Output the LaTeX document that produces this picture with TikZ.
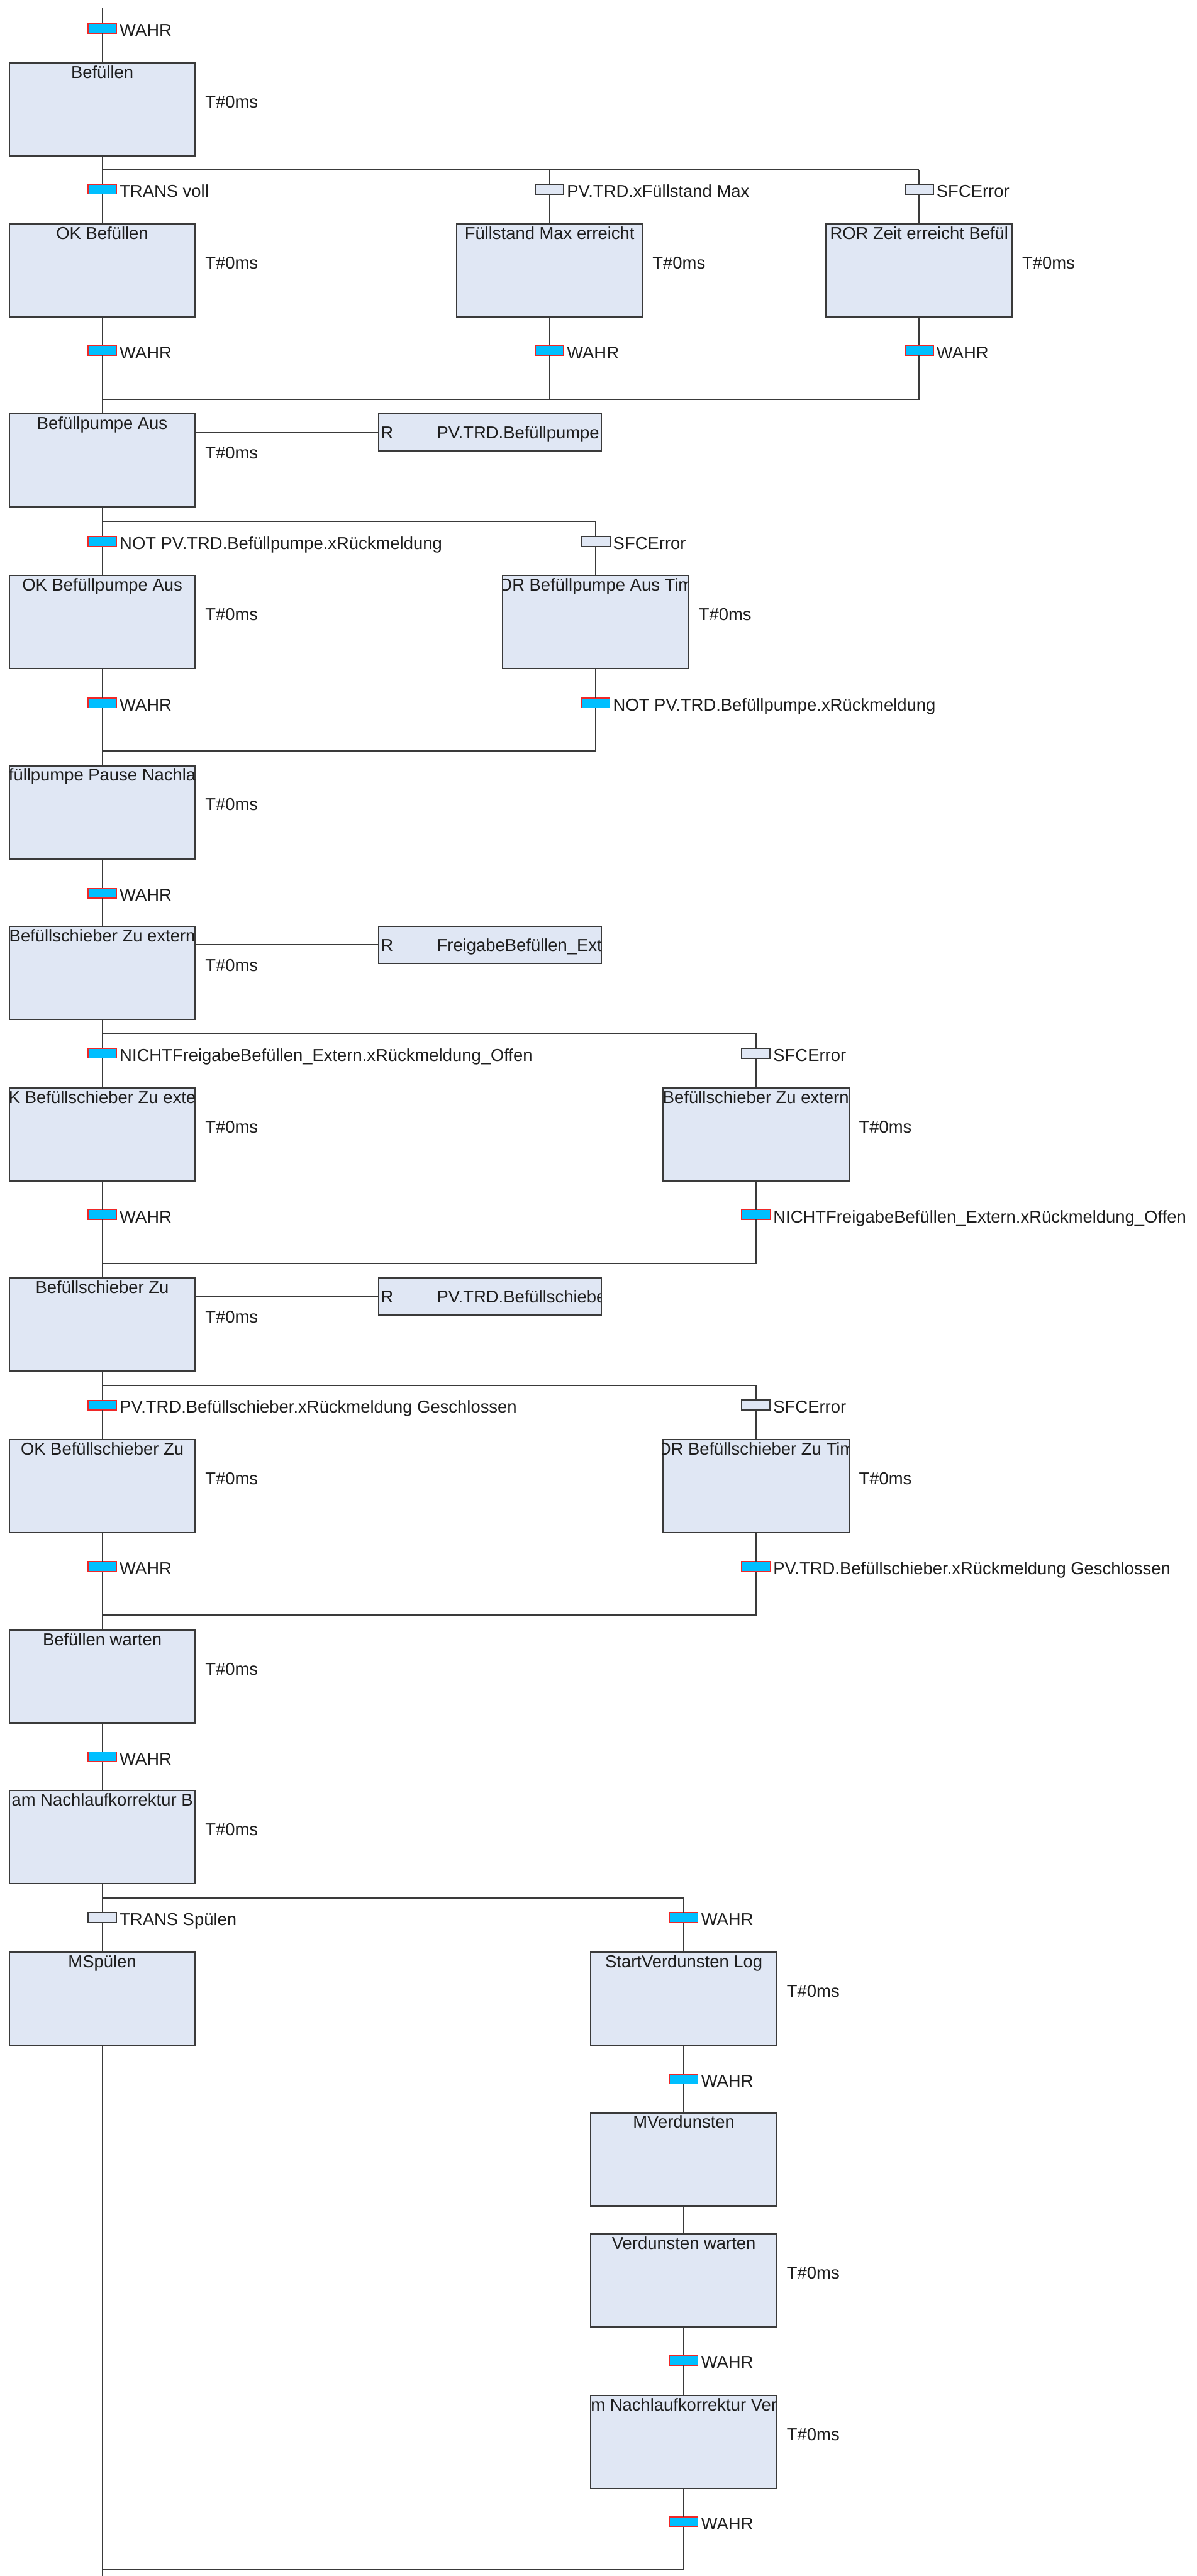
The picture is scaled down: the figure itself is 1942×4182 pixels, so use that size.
\documentclass[tikz,border=0pt]{standalone}
\usepackage{fontspec}
\setmainfont{Liberation Sans}
\usetikzlibrary{calc}

\definecolor{stepfill}{HTML}{E0E7F4}
\definecolor{lineC}{HTML}{3A3A3A}
\definecolor{actC}{HTML}{00BFFF}
\definecolor{actB}{HTML}{F02828}
\definecolor{txtC}{HTML}{1E1E1E}

\tikzset{
  every node/.style={font=\fontsize{28}{34}\selectfont, text=txtC},
  wire/.style={draw=lineC, line width=2pt},
  stepbox/.style={draw=lineC, line width=2.4pt, fill=stepfill, minimum width=302pt,
    minimum height=151pt, inner sep=0pt, outer sep=0pt, anchor=north},
  steptitle/.style={anchor=base, inner sep=0pt},
  timer/.style={anchor=base west, inner sep=0pt},
  tact/.style={draw=actB, line width=1.6pt, fill=actC, minimum width=46pt,
    minimum height=16pt, inner sep=0pt, outer sep=0pt},
  tina/.style={draw=lineC, line width=2pt, fill=stepfill, minimum width=46pt,
    minimum height=16pt, inner sep=0pt, outer sep=0pt},
  tlabel/.style={anchor=base west, inner sep=0pt},
  qbox/.style={draw=lineC, line width=2pt, fill=stepfill, minimum width=91pt,
    minimum height=60pt, inner sep=0pt, outer sep=0pt, anchor=north west},
  vbox/.style={draw=lineC, line width=2pt, fill=stepfill, minimum width=270pt,
    minimum height=60pt, inner sep=0pt, outer sep=0pt, anchor=north west},
  atext/.style={anchor=base west, inner sep=0pt},
}

% step: name, x, top, title (title clipped to the box)
\newcommand\sfcstep[4]{%
  \node[stepbox] (#1) at (#2,#3) {};
  \begin{scope}
    \clip (#1.north west) rectangle (#1.south east);
    \node[steptitle] (#1-title) at ($(#1.north)+(0,25)$) {#4};
  \end{scope}}
% step timer text
\newcommand\sfctimer[1]{%
  \node[timer] (#1-time) at ($(#1.north east)+(16,73)$) {T\#0ms};}
% transition: name, style, x, y, condition
\newcommand\sfctrans[5]{%
  \node[#2] (#1) at (#3,#4) {};
  \node[tlabel] (#1-label) at ($(#1.center)+(28,13)$) {#5};}
% action block: step, qualifier, variable
\newcommand\sfcaction[3]{%
  \node[qbox] (#1-q) at ($(#1.north west)+(600,0)$) {};
  \node[vbox] (#1-v) at (#1-q.north east) {};
  \node[atext] (#1-qt) at ($(#1-q.west)+(3,10)$) {#2};
  \begin{scope}
    \clip (#1-v.north west) rectangle (#1-v.south east);
    \node[atext] (#1-vt) at ($(#1-v.west)+(3,10)$) {#3};
  \end{scope}
  \draw[wire] (#1.east |- #1-q.west) -- (#1-q.west);}

\begin{document}
\begin{tikzpicture}[x=1pt,y=-1pt]
\fill[white] (0,0) rectangle (1942,4182);
\useasboundingbox (0,0) rectangle (1942,4182);

% ---------- Befüllen and first divergence ----------
\coordinate (start) at (166,13);
\sfctrans{t0}{tact}{166}{46}{WAHR}
\sfcstep{s1}{166}{102}{Befüllen}\sfctimer{s1}
\draw[wire] (start) -- (t0);
\draw[wire] (t0) -- (s1);

\coordinate (d1a) at (166,276);
\coordinate (d1b) at (892,276);
\coordinate (d1c) at (1492,276);
\sfctrans{t1a}{tact}{166}{307}{TRANS voll}
\sfctrans{t1b}{tina}{892}{307}{PV.TRD.xFüllstand Max}
\sfctrans{t1c}{tina}{1492}{307}{SFCError}
\draw[wire] (s1) -- (t1a);
\draw[wire] (d1a) -- (d1c);
\draw[wire] (d1b) -- (t1b);
\draw[wire] (d1c) -- (t1c);

\sfcstep{s2a}{166}{363}{OK Befüllen}\sfctimer{s2a}
\sfcstep{s2b}{892}{363}{Füllstand Max erreicht}\sfctimer{s2b}
\sfcstep{s2c}{1492}{363}{ROR Zeit erreicht Befül}\sfctimer{s2c}
\draw[wire] (t1a) -- (s2a);
\draw[wire] (t1b) -- (s2b);
\draw[wire] (t1c) -- (s2c);

\sfctrans{t2a}{tact}{166}{569}{WAHR}
\sfctrans{t2b}{tact}{892}{569}{WAHR}
\sfctrans{t2c}{tact}{1492}{569}{WAHR}
\draw[wire] (s2a) -- (t2a);
\draw[wire] (s2b) -- (t2b);
\draw[wire] (s2c) -- (t2c);

\coordinate (m1a) at (166,648);
\coordinate (m1b) at (892,648);
\coordinate (m1c) at (1492,648);
\draw[wire] (t2b) -- (m1b);
\draw[wire] (t2c) -- (m1c) -- (m1a);

% ---------- Befüllpumpe Aus ----------
\sfcstep{s3}{166}{672}{Befüllpumpe Aus}\sfctimer{s3}
\sfcaction{s3}{R}{PV.TRD.Befüllpumpe}
\draw[wire] (t2a) -- (s3);

\coordinate (d2a) at (166,846);
\coordinate (d2b) at (967,846);
\sfctrans{t3a}{tact}{166}{879}{NOT PV.TRD.Befüllpumpe.xRückmeldung}
\sfctrans{t3b}{tina}{967}{879}{SFCError}
\draw[wire] (s3) -- (t3a);
\draw[wire] (d2a) -- (d2b) -- (t3b);

\sfcstep{s4a}{166}{934}{OK Befüllpumpe Aus}\sfctimer{s4a}
\sfcstep{s4b}{967}{934}{OR Befüllpumpe Aus Tim}\sfctimer{s4b}
\draw[wire] (t3a) -- (s4a);
\draw[wire] (t3b) -- (s4b);

\sfctrans{t4a}{tact}{166}{1141}{WAHR}
\sfctrans{t4b}{tact}{967}{1141}{NOT PV.TRD.Befüllpumpe.xRückmeldung}
\draw[wire] (s4a) -- (t4a);
\draw[wire] (s4b) -- (t4b);

\coordinate (m2a) at (166,1219);
\coordinate (m2b) at (967,1219);
\draw[wire] (t4b) -- (m2b) -- (m2a);

% ---------- Pause and Befüllschieber Zu extern ----------
\sfcstep{s5}{166}{1243}{füllpumpe Pause Nachla}\sfctimer{s5}
\draw[wire] (t4a) -- (s5);
\sfctrans{t5}{tact}{166}{1450}{WAHR}
\draw[wire] (s5) -- (t5);

\sfcstep{s6}{166}{1504}{Befüllschieber Zu extern}\sfctimer{s6}
\sfcaction{s6}{R}{FreigabeBefüllen\_Ext}
\draw[wire] (t5) -- (s6);

\coordinate (d3a) at (166,1678);
\coordinate (d3b) at (1227,1678);
\sfctrans{t6a}{tact}{166}{1710}{NICHTFreigabeBefüllen\_Extern.xRückmeldung\_Offen}
\sfctrans{t6b}{tina}{1227}{1710}{SFCError}
\draw[wire] (s6) -- (t6a);
\draw[wire] (d3a) -- (d3b) -- (t6b);

\sfcstep{s7a}{166}{1766}{K Befüllschieber Zu exte}\sfctimer{s7a}
\sfcstep{s7b}{1227}{1766}{Befüllschieber Zu extern}\sfctimer{s7b}
\draw[wire] (t6a) -- (s7a);
\draw[wire] (t6b) -- (s7b);

\sfctrans{t7a}{tact}{166}{1972}{WAHR}
\sfctrans{t7b}{tact}{1227}{1972}{NICHTFreigabeBefüllen\_Extern.xRückmeldung\_Offen}
\draw[wire] (s7a) -- (t7a);
\draw[wire] (s7b) -- (t7b);

\coordinate (m3a) at (166,2051);
\coordinate (m3b) at (1227,2051);
\draw[wire] (t7b) -- (m3b) -- (m3a);

% ---------- Befüllschieber Zu ----------
\sfcstep{s8}{166}{2075}{Befüllschieber Zu}\sfctimer{s8}
\sfcaction{s8}{R}{PV.TRD.Befüllschieber}
\draw[wire] (t7a) -- (s8);

\coordinate (d4a) at (166,2249);
\coordinate (d4b) at (1227,2249);
\sfctrans{t8a}{tact}{166}{2281}{PV.TRD.Befüllschieber.xRückmeldung Geschlossen}
\sfctrans{t8b}{tina}{1227}{2281}{SFCError}
\draw[wire] (s8) -- (t8a);
\draw[wire] (d4a) -- (d4b) -- (t8b);

\sfcstep{s9a}{166}{2337}{OK Befüllschieber Zu}\sfctimer{s9a}
\sfcstep{s9b}{1227}{2337}{OR Befüllschieber Zu Tim}\sfctimer{s9b}
\draw[wire] (t8a) -- (s9a);
\draw[wire] (t8b) -- (s9b);

\sfctrans{t9a}{tact}{166}{2543}{WAHR}
\sfctrans{t9b}{tact}{1227}{2543}{PV.TRD.Befüllschieber.xRückmeldung Geschlossen}
\draw[wire] (s9a) -- (t9a);
\draw[wire] (s9b) -- (t9b);

\coordinate (m4a) at (166,2622);
\coordinate (m4b) at (1227,2622);
\draw[wire] (t9b) -- (m4b) -- (m4a);

% ---------- Befüllen warten, Nachlaufkorrektur ----------
\sfcstep{s10}{166}{2646}{Befüllen warten}\sfctimer{s10}
\draw[wire] (t9a) -- (s10);
\sfctrans{t10}{tact}{166}{2852}{WAHR}
\draw[wire] (s10) -- (t10);

\sfcstep{s11}{166}{2907}{am Nachlaufkorrektur B}\sfctimer{s11}
\draw[wire] (t10) -- (s11);

\coordinate (d5a) at (166,3081);
\coordinate (d5b) at (1110,3081);
\sfctrans{t11a}{tina}{166}{3113}{TRANS Spülen}
\sfctrans{t11b}{tact}{1110}{3113}{WAHR}
\draw[wire] (s11) -- (t11a);
\draw[wire] (d5a) -- (d5b) -- (t11b);

% ---------- Spülen / Verdunsten ----------
\sfcstep{s12a}{166}{3169}{MSpülen}
\sfcstep{s12b}{1110}{3169}{StartVerdunsten Log}\sfctimer{s12b}
\draw[wire] (t11a) -- (s12a);
\draw[wire] (t11b) -- (s12b);

\sfctrans{t12b}{tact}{1110}{3375}{WAHR}
\draw[wire] (s12b) -- (t12b);
\sfcstep{s13b}{1110}{3430}{MVerdunsten}
\draw[wire] (t12b) -- (s13b);
\sfcstep{s14b}{1110}{3627}{Verdunsten warten}\sfctimer{s14b}
\draw[wire] (s13b) -- (s14b);
\sfctrans{t14b}{tact}{1110}{3832}{WAHR}
\draw[wire] (s14b) -- (t14b);
\sfcstep{s15b}{1110}{3889}{m Nachlaufkorrektur Ver}\sfctimer{s15b}
\draw[wire] (t14b) -- (s15b);
\sfctrans{t15b}{tact}{1110}{4094}{WAHR}
\draw[wire] (s15b) -- (t15b);

\coordinate (m5a) at (166,4172);
\coordinate (m5b) at (1110,4172);
\coordinate (endL) at (166,4182);
\draw[wire] (s12a) -- (endL);
\draw[wire] (t15b) -- (m5b) -- (m5a);
\end{tikzpicture}
\end{document}
